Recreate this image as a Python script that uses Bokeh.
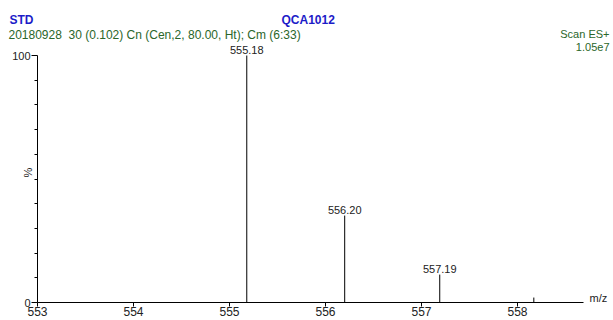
from bokeh.plotting import figure
from bokeh.layouts import column
from bokeh.models import FixedTicker, Label, LabelSet, ColumnDataSource, Range1d
from bokeh.core.properties import value
from bokeh.embed import file_html
from bokeh.resources import INLINE

# ---- data ----
peak_mz = [555.18, 556.20, 557.19, 558.17]
peak_int = [100.0, 35.2, 11.3, 2.0]
label_mz = [555.18, 556.20, 557.19]
label_int = [100.0, 35.2, 11.3]
label_txt = ["555.18", "556.20", "557.19"]
x_ticks = [553, 554, 555, 556, 557, 558]
y_ticks = [0, 100]
y_minor = [10, 20, 30, 40, 50, 60, 70, 80, 90]
x_axis_bounds = (553, 558.6875)
y_axis_bounds = (0, 100)

FONT = "Liberation Sans"
BLUE = "#1c1cc8"
GREEN = "#2a662a"
INK = "#222222"

W = 613
HEAD_H = 42
MAIN_H = 320 - HEAD_H
FRAME_H = 302 - HEAD_H          # frame from canvas y=HEAD_H to y=302
PX_PER_PCT = 2.47               # 100 % spans 247 px
PX_PER_MZ = 96.0
DY = 4                          # label baseline compensation

# ---------- header strip ----------
h = figure(width=W, height=HEAD_H, output_backend="svg", toolbar_location=None,
           x_range=Range1d(0, W), y_range=Range1d(0, HEAD_H),
           x_axis_location=None, y_axis_location=None,
           min_border=0, min_border_left=0, min_border_right=0,
           min_border_top=0, min_border_bottom=0)
h.frame_align = False
h.outline_line_color = None
h.xgrid.grid_line_color = None
h.ygrid.grid_line_color = None


def hlab(fig, text, x, y, color, size, style="normal", align="left"):
    fig.add_layout(Label(x=x, y=y + DY, x_units="screen", y_units="screen", text=text,
                         text_font=FONT, text_font_size=size, text_color=color,
                         text_font_style=style, text_align=align,
                         text_baseline="alphabetic"))


hlab(h, "STD", 9, HEAD_H - 23, BLUE, "12px", "bold")
hlab(h, "QCA1012", 281, HEAD_H - 23, BLUE, "12px", "bold")
hlab(h, "20180928\u00a0 30 (0.102) Cn (Cen,2, 80.00, Ht); Cm (6:33)", 8, HEAD_H - 38, GREEN, "12px")
hlab(h, "Scan ES+", 609, HEAD_H - 37, GREEN, "11px", align="right")

# ---------- main spectrum ----------
x_end = 553 + (W - 37) / PX_PER_MZ
y_end = FRAME_H / PX_PER_PCT
p = figure(width=W, height=MAIN_H, output_backend="svg", toolbar_location=None,
           x_range=Range1d(553, x_end), y_range=Range1d(0, y_end),
           min_border_left=37, min_border_right=0, min_border_top=0,
           min_border_bottom=18)
p.frame_align = False
p.outline_line_color = None
p.xgrid.grid_line_color = None
p.ygrid.grid_line_color = None

src = ColumnDataSource(dict(x=peak_mz, y=peak_int, y0=[0] * len(peak_mz)))
p.segment(x0="x", y0="y0", x1="x", y1="y", source=src, line_color="black", line_width=1)

lsrc = ColumnDataSource(dict(x=label_mz, y=label_int, t=label_txt))
p.add_layout(LabelSet(x="x", y="y", text="t", source=lsrc, text_align="center",
                      text_baseline="alphabetic", y_offset=2,
                      text_font=value(FONT), text_font_size="11px", text_color=INK))

xa = p.xaxis[0]
xa.ticker = FixedTicker(ticks=x_ticks)
xa.bounds = x_axis_bounds
xa.major_tick_out = 4
xa.major_tick_in = 0
xa.minor_tick_out = 0
xa.minor_tick_in = 0
xa.major_label_standoff = 0
xa.major_label_text_font = FONT
xa.major_label_text_font_size = "12px"
xa.major_label_text_color = INK

ya = p.yaxis[0]
ya.ticker = FixedTicker(ticks=y_ticks, minor_ticks=y_minor)
ya.bounds = y_axis_bounds
ya.major_tick_out = 6
ya.major_tick_in = 0
ya.minor_tick_out = 3
ya.minor_tick_in = 0
ya.major_label_standoff = 1
ya.major_label_text_font = FONT
ya.major_label_text_font_size = "11px"
ya.major_label_text_color = INK
ya.axis_label = "%"
ya.axis_label_text_font = FONT
ya.axis_label_text_font_size = "11px"
ya.axis_label_text_font_style = "normal"
ya.axis_label_text_color = INK
ya.axis_label_standoff = -25

hlab(p, "1.05e7", 609 - 37, FRAME_H - (50 - HEAD_H), GREEN, "11px", align="right")
hlab(p, "m/z", 589 - 37, 1, INK, "11px")

open("out.html", "w").write(file_html(column(h, p), INLINE))
